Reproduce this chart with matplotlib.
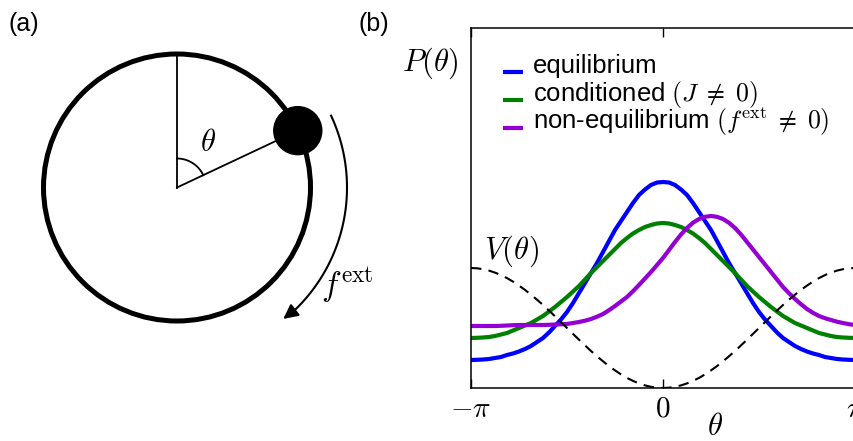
import numpy as np
import matplotlib
matplotlib.use('Agg')
import matplotlib.pyplot as plt
from matplotlib.patches import Circle

plt.rcParams['font.family'] = ['Liberation Sans', 'DejaVu Sans']
plt.rcParams['mathtext.fontset'] = 'cm'

# theta grid, step pi/32 from -pi to pi
theta = np.linspace(-np.pi, np.pi, 65)

# curves (arbitrary units, axis runs 0..360)
p_equilibrium = [28, 28.2, 28.5, 29, 30, 31, 33, 34.5, 36.5, 39, 42, 46, 50, 55.5, 62, 68.5,
                 76, 85, 95, 105, 115, 125, 136, 147, 158, 167, 176, 185, 193, 198.5, 203, 205.5,
                 206,
                 205.5, 203, 198.5, 193, 185, 176, 167, 158, 147, 136, 125, 115, 105, 95, 85,
                 76, 68.5, 62, 55.5, 50, 46, 42, 39, 36.5, 34.5, 33, 31, 30, 29, 28.5, 28.2, 28]
p_conditioned = [50, 50.2, 50.5, 51, 52, 53.5, 55, 57.5, 60, 62.5, 65, 68.5, 72, 76.5, 81, 86,
                 91, 96.5, 102, 108.5, 115, 121, 127, 133, 139, 145, 150, 154.5, 158, 161, 163, 164.5,
                 165,
                 164.5, 163, 161, 158, 154.5, 150, 145, 139, 133, 127, 121, 115, 108.5, 102, 96.5,
                 91, 86, 81, 76.5, 72, 68.5, 65, 62.5, 60, 57.5, 55, 53.5, 52, 51, 50.5, 50.2, 50]
p_noneq = [62, 62, 62, 62, 62, 62.2, 62.5, 62.8, 63, 63, 63, 63, 63, 63.2, 63.5, 63.7,
           64, 65, 66, 67.3, 69, 71.3, 74, 77.8, 82, 86.5, 91, 96.8, 103, 109.5, 116, 123,
           130,
           138, 146, 153.5, 160, 165.3, 169, 171.2, 172, 171.2, 169, 165.2, 160, 153.5, 146, 138.5,
           131, 123.5, 116, 108.5, 101, 94.8, 89, 83.8, 79, 75.2, 72, 69.8, 68, 66.3, 65, 63.8, 63]
potential = [120, 119.7, 118.8, 117.4, 115.4, 112.9, 109.9, 106.4, 102.4, 98.1, 93.3, 88.3, 83.0, 77.4, 71.7, 65.9,
             60, 54.1, 48.3, 42.6, 37.0, 31.7, 26.7, 21.9, 17.6, 13.6, 10.1, 7.1, 4.6, 2.6, 1.2, 0.3,
             0,
             0.3, 1.2, 2.6, 4.6, 7.1, 10.1, 13.6, 17.6, 21.9, 26.7, 31.7, 37.0, 42.6, 48.3, 54.1,
             60, 65.9, 71.7, 77.4, 83.0, 88.3, 93.3, 98.1, 102.4, 106.4, 109.9, 112.9, 115.4, 117.4, 118.8, 119.7, 120]

labels = ['equilibrium', r'conditioned $(J\;\neq\;0)$', r'non-equilibrium $(f^{\rm ext}\;\neq\;0)$']
colors = ['#0000ff', '#008000', '#9400d3']

W, H = 854, 441
fig = plt.figure(figsize=(W / 100, H / 100), dpi=100)

# ---- panel (b)
ax = fig.add_axes([471 / W, 53 / H, 384 / W, 360 / H])
for y, c in zip([p_equilibrium, p_conditioned, p_noneq], colors):
    ax.plot(theta, y, color=c, lw=3)
ax.plot(theta, potential, color='k', lw=1.5, ls=(0, (5, 3.5)))
ax.set_xlim(-np.pi, np.pi)
ax.set_ylim(0, 360)
ax.set_xticks([-np.pi, 0, np.pi])
ax.set_xticklabels([r'$-\pi$', r'$0$', r'$\pi$'], fontsize=21)
ax.set_yticks([])
ax.tick_params(axis='x', direction='in', length=6.5, width=1, top=True, pad=5)
for s in ax.spines.values():
    s.set_linewidth(1.1)

# overlay in pixel coordinates for panel (a) and free text, drawn on top
ax0 = fig.add_axes([0, 0, 1, 1])
ax0.set_xlim(0, W)
ax0.set_ylim(H, 0)
ax0.axis('off')
ax0.set_zorder(5)

# ---- panel (a)
cx, cy, R = 177, 187.5, 133.5
ax0.add_patch(Circle((cx, cy), R, fill=False, lw=3.6, color='k'))
phi_b = np.radians(64.8)
bx, by = cx + R * np.sin(phi_b), cy - R * np.cos(phi_b)
ax0.plot([cx, cx], [cy, cy - R], color='k', lw=1.3)
ax0.plot([cx, bx], [cy, by], color='k', lw=1.3)
ax0.add_patch(Circle((bx, by), 24, color='k', zorder=5))
ph = np.linspace(0, phi_b, 40)
ax0.plot(cx + 29 * np.sin(ph), cy - 29 * np.cos(ph), color='k', lw=1.3)
ax0.text(208, 143, r'$\theta$', fontsize=22, ha='center', va='center')

ph = np.radians(np.linspace(65, 136, 80))
ax0.plot(cx + 170 * np.sin(ph), cy - 170 * np.cos(ph), color='k', lw=1.5)
tip = np.radians(142)
ax0.annotate('', xy=(cx + 169 * np.sin(tip), cy - 169 * np.cos(tip)),
             xytext=(cx + 170 * np.sin(ph[-1]), cy - 170 * np.cos(ph[-1])),
             arrowprops=dict(arrowstyle='-|>', mutation_scale=22, color='k', lw=1.5))
ax0.text(321, 286, r'$f^{\rm ext}$', fontsize=24, ha='left', va='center')

ax0.text(8, 24, '(a)', fontsize=18, ha='left', va='center')
ax0.text(359, 24, '(b)', fontsize=18, ha='left', va='center')

# legend rows: short handle sitting near the text baseline
for i, (c, lab) in enumerate(zip(colors, labels)):
    yb = 73 + 28 * i
    ax0.plot([503, 523], [yb - 1.5, yb - 1.5], color=c, lw=3, solid_capstyle='butt')
    ax0.text(533, yb, lab, fontsize=18.5, ha='left', va='baseline')

ax0.text(430, 63, r'$P(\theta)$', fontsize=22, ha='center', va='center')
ax0.text(511, 251, r'$V(\theta)$', fontsize=22, ha='center', va='center')
ax0.text(715, 427, r'$\theta$', fontsize=22, ha='center', va='center')

fig.savefig('out.png', dpi=100)
